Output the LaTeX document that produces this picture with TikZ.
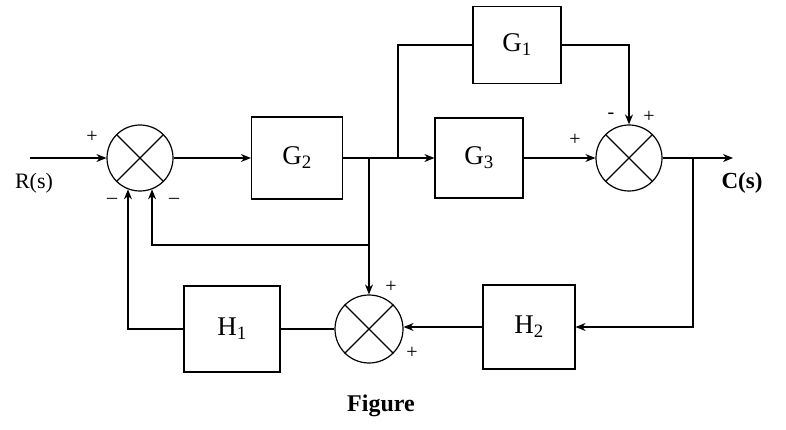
\documentclass[tikz,border=0pt]{standalone}
\usepackage{fontspec}
\setmainfont{Liberation Serif}
\usetikzlibrary{arrows.meta}
\begin{document}
\begin{tikzpicture}[x=1pt,y=-1pt,
 blk/.style={draw,line width=1.2pt,inner sep=0,font=\fontsize{27}{31}\selectfont},
 sumj/.style={draw,circle,line width=1.2pt,minimum size=66pt,inner sep=0},
 sig/.style={font=\fontsize{20}{22}\selectfont,inner sep=0},
 con/.style={line width=1.2pt},
 arr/.style={con,-{Stealth[length=10pt,width=8pt]}}]
\useasboundingbox (0,0) rectangle (786,430);
% blocks
\node[blk,minimum width=91pt,minimum height=82pt] (G2) at (297,158) {G\textsubscript{2}};
\node[blk,minimum width=88pt,minimum height=80pt] (G3) at (479,158) {G\textsubscript{3}};
\node[blk,minimum width=88pt,minimum height=77pt] (G1) at (517,45) {G\textsubscript{1}};
\node[blk,minimum width=96pt,minimum height=86pt] (H1) at (232,329) {H\textsubscript{1}};
\node[blk,minimum width=92pt,minimum height=84pt] (H2) at (529,327) {H\textsubscript{2}};
% summing junctions
\node[sumj] (s1) at (140,158) {};
\node[sumj] (s2) at (629,158) {};
\node[sumj,minimum size=68pt] (s3) at (369,329) {};
\foreach \s in {s1,s2,s3}{\draw[con] (\s.45) -- (\s.225) (\s.135) -- (\s.315);}
% coordinates
\coordinate (rin) at (30,158);
\coordinate (b1) at (398,158);
\coordinate (b2) at (369,158);
\coordinate (fb) at (369,245);
\coordinate (b3) at (693,158);
\coordinate (cout) at (733,158);
% connectors
\draw[arr] (rin) -- (s1.west);
\draw[arr] (s1.east) -- (G2.west);
\draw[arr] (G2.east) -- (G3.west);
\draw[con] (b1) |- (G1.west);
\draw[arr] (G1.east) -| (s2.north);
\draw[arr] (G3.east) -- (s2.west);
\draw[arr] (s2.east) -- (cout);
\draw[arr] (b3) |- (H2.east);
\draw[arr] (H2.west) -- (H2.west -| s3.east);
\draw[arr] (b2) -- (s3.north);
\draw[arr] (fb) -| (s1.-69);
\draw[con] (s3.west) -- (H1.east);
\draw[arr] (H1.west) -| (s1.-111);
% labels
\node[font=\fontsize{22}{26}\selectfont] (R) at (34,183) {R(s)};
\node[font=\fontsize{23}{27}\selectfont\bfseries] (C) at (742,183) {C(s)};
\node[font=\fontsize{24}{28}\selectfont\bfseries] (F) at (381,406) {Figure};
\node[sig] (p1) at (92,137) {+};
\node[sig] (m1) at (112,201) {--};
\node[sig] (m2) at (174,201) {--};
\node[sig] (m3) at (611,116) {-};
\node[sig] (p2) at (649,117) {+};
\node[sig] (p3) at (575,140) {+};
\node[sig] (p4) at (391,287) {+};
\node[sig] (p5) at (412,353) {+};
\end{tikzpicture}
\end{document}
